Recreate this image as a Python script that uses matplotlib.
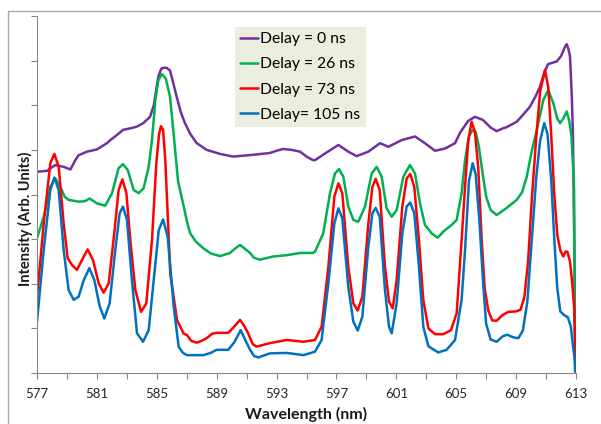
import matplotlib.pyplot as plt
from matplotlib.patches import Rectangle

plt.rcParams['font.family'] = ['Lato', 'DejaVu Sans']

# wavelength (nm) / intensity pairs
wl_0 = [577.0, 577.67, 578.22, 578.78, 579.23, 579.56, 579.78, 580.34, 581.0, 581.67,
        581.9, 582.4, 582.76, 583.2, 583.66, 584.1, 584.55, 584.8, 585.1, 585.3,
        585.44, 585.65, 585.88, 586.1, 586.33, 586.6, 586.88, 587.25, 587.67, 588.33,
        589.22, 590.09, 590.8, 591.43, 592.56, 593.0, 593.43, 594.0, 594.57, 595.0,
        595.43, 595.57, 596.24, 597.13, 597.79, 598.35, 599.13, 599.91, 600.47, 601.36,
        602.25, 602.91, 603.58, 604.25, 604.92, 605.25, 605.8, 606.25, 606.79, 607.3,
        607.7, 608.1, 608.37, 609.04, 609.5, 609.93, 610.3, 610.6, 610.9, 611.13,
        611.4, 611.71, 612.0, 612.25, 612.38, 612.5, 612.6, 612.72, 612.8, 612.9,
        613.0]
int_0 = [4.51, 4.53, 4.66, 4.62, 4.56, 4.77, 4.88, 4.96, 5.01, 5.15,
         5.22, 5.35, 5.45, 5.48, 5.52, 5.6, 5.74, 6.0, 6.64, 6.82,
         6.84, 6.84, 6.78, 6.5, 6.19, 5.85, 5.6, 5.35, 5.15, 5.0,
         4.91, 4.85, 4.87, 4.89, 4.93, 4.98, 5.02, 5.0, 4.96, 4.85,
         4.77, 4.77, 4.92, 5.11, 4.96, 4.86, 4.96, 5.15, 5.07, 5.22,
         5.3, 5.15, 4.98, 5.03, 5.15, 5.38, 5.65, 5.74, 5.67, 5.5,
         5.42, 5.48, 5.51, 5.63, 5.8, 5.97, 6.2, 6.42, 6.75, 6.92,
         6.95, 6.98, 7.1, 7.3, 7.37, 7.25, 7.09, 6.2, 5.3, 2.5,
         0.0]

wl_26 = [577.0, 577.45, 577.89, 578.22, 578.56, 578.85, 579.11, 579.78, 580.2, 580.52,
         581.01, 581.56, 582.01, 582.45, 582.74, 583.06, 583.46, 583.79, 584.12, 584.46,
         584.68, 584.9, 585.1, 585.33, 585.6, 585.88, 586.1, 586.42, 586.8, 587.02,
         587.22, 587.6, 588.09, 588.6, 589.22, 589.89, 590.2, 590.56, 590.9, 591.23,
         591.5, 591.89, 592.76, 593.68, 594.57, 595.43, 595.57, 596.12, 596.57, 596.9,
         597.17, 597.46, 597.79, 598.13, 598.46, 598.91, 599.35, 599.69, 600.02, 600.35,
         600.69, 601.02, 601.47, 601.91, 602.25, 602.58, 602.91, 603.36, 603.76, 604.14,
         604.7, 605.03, 605.36, 605.59, 605.85, 606.1, 606.3, 606.5, 606.75, 607.0,
         607.3, 607.7, 608.37, 609.04, 609.4, 609.71, 610.0, 610.38, 610.82, 611.15,
         611.48, 611.75, 611.93, 612.15, 612.38, 612.55, 612.7, 612.87, 612.93, 613.0]
int_26 = [3.02, 3.5, 4.17, 4.36, 4.17, 3.95, 3.88, 3.84, 3.85, 3.91,
          3.8, 3.75, 4.03, 4.59, 4.68, 4.55, 4.1, 4.03, 4.14, 4.62,
          5.22, 6.1, 6.55, 6.7, 6.6, 6.2, 5.45, 4.3, 3.73, 3.39,
          3.14, 2.95, 2.8, 2.68, 2.62, 2.69, 2.78, 2.87, 2.78, 2.69,
          2.58, 2.54, 2.61, 2.64, 2.69, 2.69, 2.72, 3.13, 4.03, 4.47,
          4.57, 4.4, 3.73, 3.43, 3.39, 3.73, 4.47, 4.62, 4.4, 3.69,
          3.5, 3.65, 4.4, 4.66, 4.47, 3.8, 3.32, 3.13, 3.03, 3.17,
          3.32, 3.43, 4.03, 4.77, 5.3, 5.45, 5.4, 5.1, 4.5, 3.95,
          3.65, 3.54, 3.7, 3.88, 4.05, 4.4, 4.9, 5.45, 6.12, 6.34,
          6.05, 5.7, 5.6, 5.7, 5.86, 5.65, 5.3, 4.17, 0.05, 0.0]

wl_73 = [577.0, 577.45, 577.89, 578.16, 578.45, 578.78, 579.05, 579.34, 579.67, 580.0,
         580.38, 580.74, 581.12, 581.45, 581.79, 582.16, 582.45, 582.7, 582.97, 583.23,
         583.57, 583.95, 584.3, 584.68, 584.97, 585.15, 585.28, 585.42, 585.57, 585.9,
         586.35, 586.8, 587.02, 587.3, 587.67, 588.0, 588.33, 588.7, 589.0, 589.78,
         590.2, 590.56, 590.85, 591.09, 591.4, 591.67, 592.1, 592.56, 593.68, 594.79,
         595.2, 595.57, 596.01, 596.46, 596.86, 597.13, 597.39, 597.79, 598.13, 598.42,
         598.73, 599.13, 599.4, 599.62, 599.89, 600.24, 600.51, 600.76, 601.02, 601.4,
         601.69, 601.93, 602.2, 602.51, 602.8, 603.14, 603.58, 604.14, 604.65, 605.03,
         605.36, 605.59, 605.8, 606.03, 606.25, 606.47, 606.7, 606.9, 607.14, 607.4,
         607.7, 608.1, 608.48, 609.0, 609.3, 609.55, 609.8, 610.05, 610.35, 610.6,
         610.93, 611.15, 611.35, 611.55, 611.75, 611.95, 612.15, 612.3, 612.42, 612.6,
         612.75, 612.87, 613.0]
int_73 = [1.71, 3.35, 4.7, 4.91, 4.62, 3.35, 2.57, 2.42, 2.31, 2.53,
          2.77, 2.53, 2.01, 1.8, 2.01, 3.13, 4.1, 4.34, 4.03, 2.98,
          1.86, 1.37, 1.56, 2.98, 4.7, 5.35, 5.53, 5.45, 4.77, 2.23,
          1.19, 0.88, 0.85, 0.72, 0.68, 0.72, 0.78, 0.88, 0.9, 0.9,
          1.05, 1.19, 1.05, 0.9, 0.65, 0.59, 0.63, 0.67, 0.74, 0.7,
          0.72, 0.74, 1.04, 2.38, 3.95, 4.25, 4.03, 2.38, 1.56, 1.4,
          1.71, 3.35, 4.17, 4.35, 4.1, 2.38, 1.6, 1.45, 2.08, 3.73,
          4.36, 4.46, 4.17, 2.98, 1.64, 1.0, 0.87, 0.87, 0.96, 1.34,
          2.98, 4.17, 5.2, 5.63, 5.4, 4.6, 3.0, 1.9, 1.4, 1.18,
          1.17, 1.3, 1.37, 1.38, 1.42, 1.7, 2.5, 3.9, 5.3, 6.3,
          6.79, 6.4, 5.3, 4.0, 3.1, 2.75, 2.61, 2.72, 2.72, 2.5,
          2.0, 1.5, 0.07]

wl_105 = [577.0, 577.45, 577.89, 578.16, 578.45, 578.78, 579.11, 579.45, 579.78, 580.12,
          580.5, 580.83, 581.19, 581.5, 581.85, 582.23, 582.52, 582.74, 583.01, 583.34,
          583.68, 584.08, 584.46, 584.84, 585.13, 585.42, 585.73, 586.13, 586.46, 586.75,
          587.02, 588.11, 588.6, 589.0, 589.78, 590.2, 590.6, 590.9, 591.23, 591.5,
          591.78, 592.56, 593.68, 594.79, 595.3, 595.57, 596.01, 596.46, 596.86, 597.13,
          597.39, 597.79, 598.13, 598.42, 598.73, 599.13, 599.4, 599.62, 599.89, 600.24,
          600.51, 600.69, 601.02, 601.4, 601.69, 601.93, 602.2, 602.51, 602.8, 603.14,
          603.8, 604.36, 604.92, 605.36, 605.59, 605.85, 606.1, 606.3, 606.55, 606.8,
          607.0, 607.3, 607.7, 608.1, 608.4, 608.8, 609.15, 609.45, 609.75, 610.05,
          610.35, 610.6, 610.88, 611.1, 611.35, 611.55, 611.75, 611.95, 612.2, 612.45,
          612.65, 612.8, 612.9, 613.0]
int_105 = [1.15, 2.76, 4.1, 4.38, 4.1, 2.76, 1.86, 1.64, 1.71, 2.08,
           2.35, 2.08, 1.49, 1.22, 1.56, 2.76, 3.58, 3.73, 3.43, 2.08,
           0.89, 0.7, 0.96, 2.23, 3.2, 3.44, 3.05, 1.49, 0.59, 0.45,
           0.4, 0.4, 0.45, 0.52, 0.52, 0.7, 0.96, 0.75, 0.52, 0.38,
           0.35, 0.44, 0.45, 0.4, 0.45, 0.48, 0.74, 2.01, 3.35, 3.69,
           3.47, 1.93, 1.15, 0.95, 1.26, 2.83, 3.58, 3.7, 3.5, 1.86,
           1.04, 0.89, 1.56, 3.13, 3.73, 3.82, 3.58, 2.38, 1.04, 0.6,
           0.46, 0.52, 0.74, 1.64, 2.76, 4.3, 4.7, 4.45, 3.4, 2.0,
           1.1, 0.75, 0.7, 0.82, 0.86, 0.8, 0.78, 0.95, 1.6, 3.0,
           4.4, 5.2, 5.6, 5.35, 4.3, 3.0, 1.9, 1.38, 1.3, 1.25,
           1.05, 0.6, 0.35, 0.0]

series = [
    (wl_0, int_0, '#7030A0', 'Delay = 0 ns'),
    (wl_26, int_26, '#00B050', 'Delay = 26 ns'),
    (wl_73, int_73, '#FF0000', 'Delay = 73 ns'),
    (wl_105, int_105, '#0070C0', 'Delay= 105 ns'),
]
major_ticks = list(range(577, 614, 4))
minor_ticks = list(range(579, 613, 4))

fig = plt.figure(figsize=(6.01, 4.24), dpi=100)
ax = fig.add_axes([37 / 601, 51 / 424, 539 / 601, 357 / 424])

for wl, inten, col, lab in series:
    ax.plot(wl, inten, color=col, lw=1.8, label=lab,
            solid_joinstyle='round', solid_capstyle='round')

ax.set_xlim(577, 613)
ax.set_ylim(0, 8)
ax.set_xticks(major_ticks)
ax.set_xticks(minor_ticks, minor=True)
ax.set_yticks(range(0, 9))
ax.set_yticklabels([])
ax.tick_params(which='both', direction='out', length=4, width=0.8, color='#868686')
ax.tick_params(axis='x', labelsize=9.5, pad=7, labelcolor='#262626')
for s in ('top', 'right'):
    ax.spines[s].set_visible(False)
for s in ('left', 'bottom'):
    ax.spines[s].set_color('#868686')
    ax.spines[s].set_linewidth(0.8)

fig.text(306 / 601, 1 - 414 / 424, 'Wavelength (nm)', fontsize=11.5, fontweight='bold',
         ha='center', va='center', color='#1a1a1a')
fig.text(25 / 601, 1 - 219 / 424, 'Intensity (Arb. Units)', fontsize=10.5,
         fontweight='bold', rotation=90, ha='center', va='center', color='#1a1a1a')

leg = ax.legend(loc='upper left', bbox_to_anchor=(235 / 601, 1 - 27 / 424),
                bbox_transform=fig.transFigure, fontsize=11.3, frameon=True,
                handlelength=1.15, handletextpad=0.15, labelspacing=0.72,
                borderpad=0.32, borderaxespad=0, fancybox=False)
leg.get_frame().set_facecolor('#EBEDDF')
leg.get_frame().set_edgecolor('none')
leg.get_frame().set_alpha(1)

fig.patches.append(Rectangle((8 / 601, -0.1), 1.2, 1.1 - 11 / 424,
                             transform=fig.transFigure, fill=False,
                             edgecolor='#A6A6A6', lw=1))

fig.savefig('out.png', dpi=100)
